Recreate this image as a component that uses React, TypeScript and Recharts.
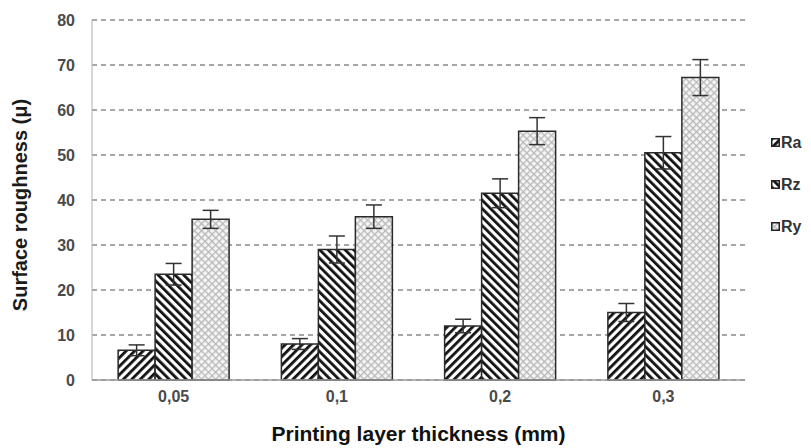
import { Bar, BarChart, CartesianGrid, ErrorBar, XAxis, YAxis } from "recharts";

const CATEGORIES = ["0,05", "0,1", "0,2", "0,3"];
const RA = [6.6, 8, 12, 15];
const RA_ERR = [1.2, 1.2, 1.5, 2];
const RZ = [23.5, 29, 41.5, 50.5];
const RZ_ERR = [2.4, 3, 3.2, 3.6];
const RY = [35.7, 36.3, 55.3, 67.2];
const RY_ERR = [2, 2.6, 3, 4];
const Y_TICKS = [0, 10, 20, 30, 40, 50, 60, 70, 80];

const SERIES = [
  { key: "Ra", fill: "url(#pat-ra)" },
  { key: "Rz", fill: "url(#pat-rz)" },
  { key: "Ry", fill: "url(#pat-ry)" },
];

const FONT = "'Liberation Sans', Arial, sans-serif";

const data = CATEGORIES.map((cat, i) => ({
  cat,
  Ra: RA[i],
  raErr: RA_ERR[i],
  Rz: RZ[i],
  rzErr: RZ_ERR[i],
  Ry: RY[i],
  ryErr: RY_ERR[i],
}));

function Patterns() {
  return (
    <defs>
      <pattern id="pat-ra" patternUnits="userSpaceOnUse" width={6} height={6} patternTransform="rotate(45)">
        <rect width={6} height={6} fill="#fff" />
        <rect width={2.8} height={6} fill="#111" />
      </pattern>
      <pattern id="pat-rz" patternUnits="userSpaceOnUse" width={6} height={6} patternTransform="rotate(-45)">
        <rect width={6} height={6} fill="#fff" />
        <rect width={2.8} height={6} fill="#111" />
      </pattern>
      <pattern id="pat-ry" patternUnits="userSpaceOnUse" width={5} height={5} patternTransform="rotate(45)">
        <rect width={5} height={5} fill="#f6f6f6" />
        <rect width={1.3} height={5} fill="#b8b8b8" />
        <rect width={5} height={1.3} fill="#b8b8b8" />
      </pattern>
    </defs>
  );
}

// rotated y-axis title, placed by hand
function YTitle() {
  const cx = 20;
  const cy = 205;
  return (
    <text
      x={cx}
      y={cy}
      transform={`rotate(-90 ${cx} ${cy})`}
      textAnchor="middle"
      dominantBaseline="central"
      fontFamily={FONT}
      fontWeight="bold"
      fontSize={20}
      fill="#1a1a1a"
    >
      Surface roughness (μ)
    </text>
  );
}

function Legend() {
  return (
    <div
      style={{
        position: "absolute",
        left: 771,
        top: 133,
        fontFamily: FONT,
        fontWeight: "bold",
        fontSize: 16,
        color: "#333",
        display: "flex",
        flexDirection: "column",
        gap: 23,
      }}
    >
      {SERIES.map((s) => (
        <div key={s.key} style={{ display: "flex", alignItems: "center", gap: 1, height: 19 }}>
          <svg width={9} height={9}>
            <rect x={0.75} y={0.75} width={7.5} height={7.5} fill={s.fill} stroke="#222" strokeWidth={1.5} />
          </svg>
          <span>{s.key}</span>
        </div>
      ))}
    </div>
  );
}

export default function App() {
  const tick = { fill: "#4a4a4a", fontSize: 16, fontWeight: "bold", fontFamily: FONT };
  return (
    <div style={{ position: "absolute", left: 0, top: 0, width: 811, height: 448, background: "#fff" }}>
      <BarChart
        width={811}
        height={448}
        data={data}
        margin={{ top: 20, right: 66, bottom: 0, left: 0 }}
        barCategoryGap="16%"
        barGap={0}
      >
        <Patterns />
        <CartesianGrid vertical={false} stroke="#8a8a8a" strokeWidth={1.5} strokeDasharray="5 4" />
        <XAxis
          dataKey="cat"
          height={68}
          tickLine={false}
          tickMargin={5}
          axisLine={{ stroke: "#9a9a9a", strokeWidth: 1.5 }}
          tick={tick}
          label={{
            value: "Printing layer thickness (mm)",
            position: "insideBottom",
            offset: 7,
            fill: "#111",
            fontSize: 21,
            fontWeight: "bold",
            fontFamily: FONT,
          }}
        />
        <YAxis
          width={92}
          domain={[0, 80]}
          ticks={Y_TICKS}
          interval={0}
          tickLine={false}
          tickMargin={11}
          axisLine={{ stroke: "#b0b0b0", strokeWidth: 1 }}
          tick={tick}
          label={{ content: YTitle }}
        />
        <Bar dataKey="Ra" fill="url(#pat-ra)" stroke="#2a2a2a" strokeWidth={1.5} isAnimationActive={false}>
          <ErrorBar dataKey="raErr" width={8} stroke="#333" strokeWidth={1.5} />
        </Bar>
        <Bar dataKey="Rz" fill="url(#pat-rz)" stroke="#2a2a2a" strokeWidth={1.5} isAnimationActive={false}>
          <ErrorBar dataKey="rzErr" width={8} stroke="#333" strokeWidth={1.5} />
        </Bar>
        <Bar dataKey="Ry" fill="url(#pat-ry)" stroke="#2a2a2a" strokeWidth={1.5} isAnimationActive={false}>
          <ErrorBar dataKey="ryErr" width={8} stroke="#333" strokeWidth={1.5} />
        </Bar>
      </BarChart>
      <Legend />
    </div>
  );
}
